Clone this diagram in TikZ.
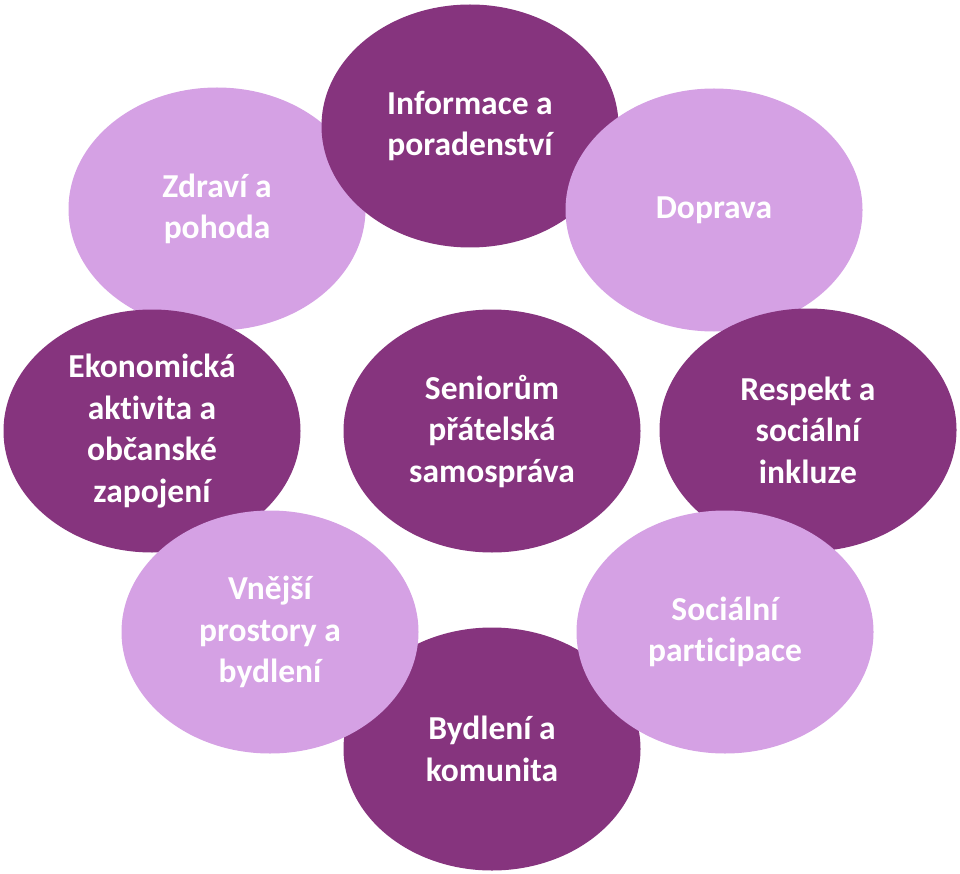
\documentclass[tikz,border=0pt]{standalone}
\usepackage{fontspec}
\setmainfont{Carlito}[Ligatures=NoCommon]
\usetikzlibrary{shapes.geometric}
\definecolor{darkpurple}{RGB}{134,52,126}
\definecolor{lightpurple}{RGB}{213,161,228}
\tikzset{
  bubble/.style={ellipse, minimum width=297pt, minimum height=243pt, inner sep=0pt,
    text=white, align=center, font=\fontsize{33.5}{41.5}\selectfont\bfseries},
  darkbubble/.style={bubble, fill=darkpurple},
  lightbubble/.style={bubble, fill=lightpurple}
}
\begin{document}
\begin{tikzpicture}[x=1pt,y=-1pt]
\useasboundingbox (0,0) rectangle (960,874);
\node[lightbubble] (zdravi) at (217,209) {Zdraví a\\pohoda};
\node[darkbubble] (info) at (470,126) {Informace a\\poradenství};
\node[lightbubble] (doprava) at (714,210) {Doprava};
\node[darkbubble] (ekon) at (152,431) {Ekonomická\\aktivita a\\občanské\\zapojení};
\node[darkbubble] (respekt) at (808,430) {Respekt a\\sociální\\inkluze};
\node[darkbubble] (bydleni) at (492,749) {Bydlení a\\komunita};
\node[lightbubble] (vnejsi) at (270,632) {Vnější\\prostory a\\bydlení};
\node[lightbubble] (socpart) at (725,632) {Sociální\\participace};
\node[darkbubble] (center) at (492,431) {Seniorům\\přátelská\\samospráva};
\end{tikzpicture}
\end{document}
